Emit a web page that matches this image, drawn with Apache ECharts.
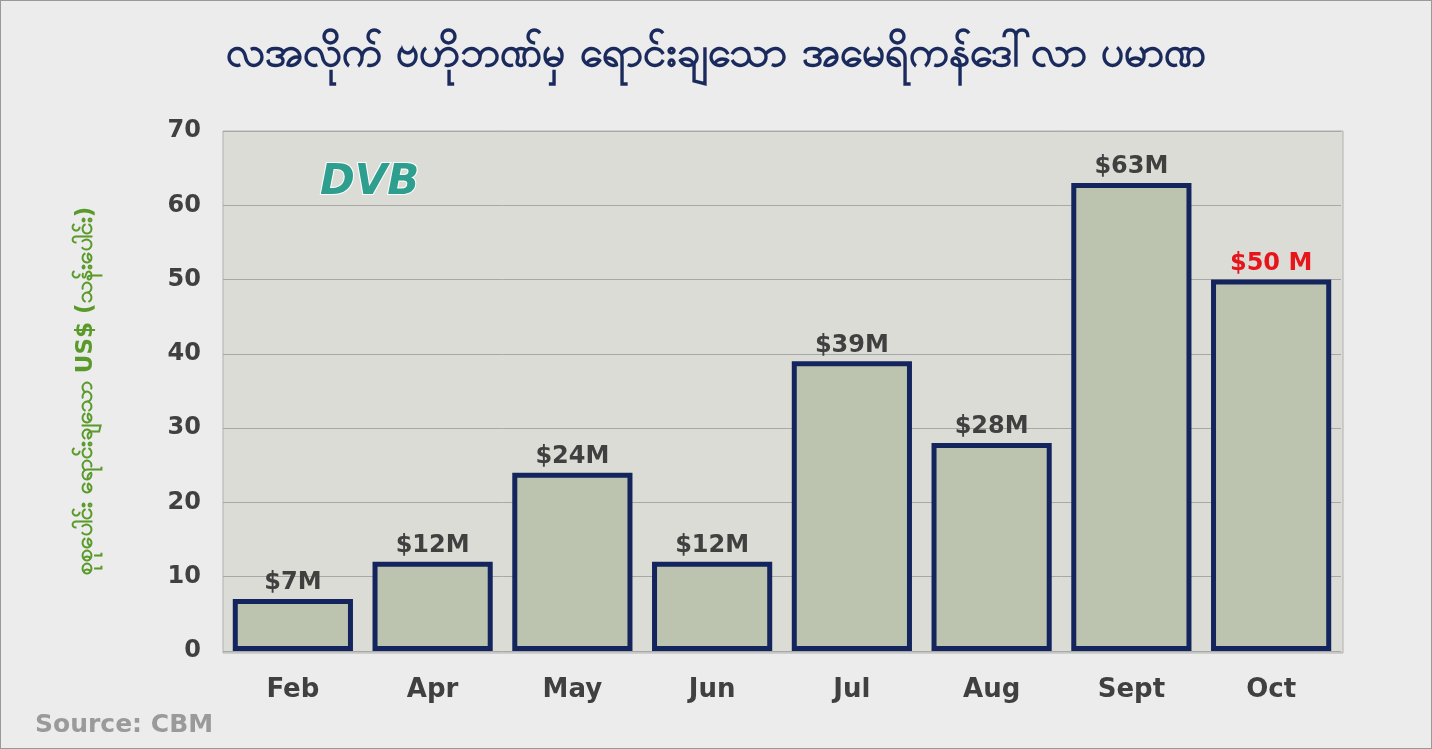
<!DOCTYPE html>
<html><head><meta charset="utf-8">
<script src="https://cdn.jsdelivr.net/npm/echarts@6/dist/echarts.min.js"></script>
<style>html,body{margin:0;padding:0;background:#ececec}#c{width:1432px;height:749px;box-sizing:border-box;border:1px solid #999}</style>
</head><body><div id="c"></div>
<script>
const categories = ['Feb','Apr','May','Jun','Jul','Aug','Sept','Oct'];
const values = [7,12,24,12,39,28,63,50];
const labels = ['$7M','$12M','$24M','$12M','$39M','$28M','$63M','$50 M'];
const F = "'DejaVu Sans', Verdana, sans-serif";
const chart = echarts.init(document.getElementById('c'));
chart.setOption({
  backgroundColor:'#ececec',
  textStyle:{fontFamily:F},
  title:{text:'လအလိုက် ဗဟိုဘဏ်မှ ရောင်းချသော အမေရိကန်ဒေါ်လာ ပမာဏ',left:'center',top:28,
    textStyle:{color:'#1b2a5c',fontSize:42,fontWeight:'bold'}},
  grid:{left:222,right:90,top:130,bottom:97},
  graphic:[
    {type:'rect',shape:{x:222,y:130,width:1120,height:522},style:{fill:'#dcdcd6',stroke:'#b0b0b0',lineWidth:1},z:-1},
    {type:'text',left:318,top:160,style:{text:'DVB',fill:'#2e9f8e',font:"italic bold 42px 'DejaVu Sans'",stroke:'#fff',lineWidth:2}},
    {type:'text',left:34,top:712,style:{text:'Source: CBM',fill:'#9a9a9a',font:"bold 25px 'DejaVu Sans'"}}
  ],
  xAxis:{type:'category',data:categories,axisLine:{show:false},axisTick:{show:false},
    axisLabel:{color:'#404040',fontSize:26,fontWeight:'bold',margin:26,fontFamily:F}},
  yAxis:{type:'value',min:0,max:70,interval:10,
    name:'စုစုပေါင်း ရောင်းချသော US$ (သန်းပေါင်း)',nameLocation:'middle',nameGap:125,
    nameTextStyle:{color:'#5a9a2a',fontSize:23,fontWeight:'bold',fontFamily:F},
    axisLabel:{color:'#404040',fontSize:24,fontWeight:'bold',margin:22,fontFamily:F},
    splitLine:{lineStyle:{color:'#a8a8a8'}}},
  series:[{type:'bar',barWidth:'86%',
    data:values.map((v,i)=>({value:v,label:{color:i===7?'#e8141b':'#404040'}})),
    itemStyle:{color:'#bcc4b0',borderColor:'#14255e',borderWidth:5},
    label:{show:true,position:'top',fontSize:24,fontWeight:'bold',distance:4,fontFamily:F,
      formatter:p=>labels[p.dataIndex]}}]
});
</script></body></html>
